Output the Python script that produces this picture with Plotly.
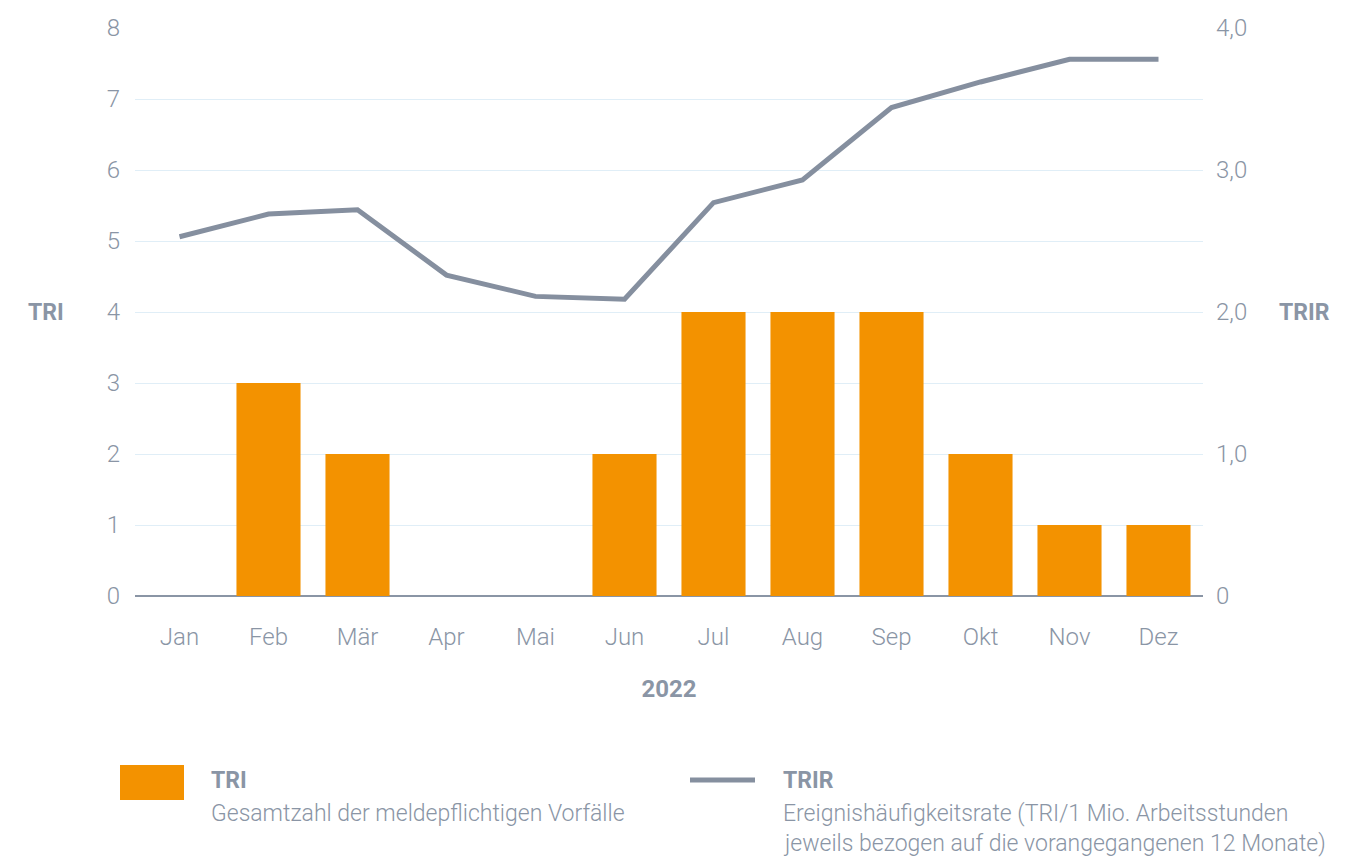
import plotly.graph_objects as go

months = ["Jan", "Feb", "Mär", "Apr", "Mai", "Jun", "Jul", "Aug", "Sep", "Okt", "Nov", "Dez"]
tri = [0, 3, 2, 0, 0, 2, 4, 4, 4, 2, 1, 1]
trir = [2.53, 2.69, 2.72, 2.26, 2.11, 2.09, 2.77, 2.93, 3.44, 3.62, 3.78, 3.78]
left_ticks = [0, 1, 2, 3, 4, 5, 6, 7, 8]
right_ticks = [0, 1, 2, 3, 4]
right_labels = ["0", "1,0", "2,0", "3,0", "4,0"]

ORANGE = "#f39200"
LINE = "#858f9f"
TXT = "#8a95a5"
GRID = "#e0eef7"
FONT = "Roboto"

fig = go.Figure()
fig.add_trace(go.Bar(x=months, y=tri, marker=dict(color=ORANGE, line=dict(width=0)),
                     yaxis="y", showlegend=False))
fig.add_trace(go.Scatter(x=months, y=trir, mode="lines", yaxis="y2",
                         line=dict(color=LINE, width=5), showlegend=False))

fig.update_layout(
    width=1361, height=859,
    margin=dict(l=127, r=166, t=20, b=271),
    paper_bgcolor="white", plot_bgcolor="white",
    bargap=0.28,
    separators=",.",
    font=dict(family=FONT, color=TXT, size=24, weight=300),
    xaxis=dict(showgrid=False, ticks="", showline=False, zeroline=False, automargin=False,
               ticklabelstandoff=24,
               tickfont=dict(size=24, color=TXT, weight=300),
               title=dict(text="<b>2022</b>", font=dict(size=24, color=TXT, weight=700), standoff=30)),
    yaxis=dict(range=[0, 8], tickvals=left_ticks, showgrid=True, gridcolor=GRID, gridwidth=1,
               zeroline=True, zerolinecolor="#8a95a5", zerolinewidth=1.5, automargin=False,
               showline=False, ticks="", ticklabelstandoff=14,
               tickfont=dict(size=24, color=TXT, weight=300)),
    yaxis2=dict(range=[0, 4], overlaying="y", side="right", tickvals=right_ticks, ticktext=right_labels,
                showgrid=False, zeroline=False, showline=False, ticks="", ticklabelstandoff=12,
                automargin=False,
                tickfont=dict(size=24, color=TXT, weight=300)),
)

# axis titles
fig.add_annotation(text="<b>TRI</b>", xref="paper", yref="y", x=-0.083, y=4, showarrow=False,
                   xanchor="center", yanchor="middle", font=dict(size=23, color=TXT))
fig.add_annotation(text="<b>TRIR</b>", xref="paper", yref="y", x=1.0955, y=4, showarrow=False,
                   xanchor="center", yanchor="middle", font=dict(size=23, color=TXT))

# legend (custom), positions given in screen pixels relative to plot area
def px_x(px):
    return (px - 135) / (1203 - 135)

def px_y(py):
    return (596 - py) / (596 - 28)

fig.add_shape(type="rect", xref="paper", yref="paper", x0=px_x(120), x1=px_x(184),
              y0=px_y(800), y1=px_y(765), fillcolor=ORANGE, line=dict(width=0))
fig.add_annotation(text="<b>TRI</b>", xref="paper", yref="paper", x=px_x(209), y=px_y(780),
                   showarrow=False, xanchor="left", yanchor="middle", font=dict(size=23, color=TXT))
fig.add_annotation(text="Gesamtzahl der meldepflichtigen Vorfälle", xref="paper", yref="paper",
                   x=px_x(209), y=px_y(813), showarrow=False, xanchor="left", yanchor="middle",
                   font=dict(size=23, color=TXT, weight=300))

fig.add_shape(type="line", xref="paper", yref="paper", x0=px_x(690), x1=px_x(755),
              y0=px_y(780), y1=px_y(780), line=dict(color=LINE, width=5))
fig.add_annotation(text="<b>TRIR</b>", xref="paper", yref="paper", x=px_x(781), y=px_y(780),
                   showarrow=False, xanchor="left", yanchor="middle", font=dict(size=23, color=TXT))
fig.add_annotation(text="Ereignishäufigkeitsrate (TRI/1 Mio. Arbeitsstunden", xref="paper", yref="paper",
                   x=px_x(781), y=px_y(813), showarrow=False, xanchor="left", yanchor="middle",
                   font=dict(size=23, color=TXT, weight=300))
fig.add_annotation(text="jeweils bezogen auf die vorangegangenen 12 Monate)", xref="paper", yref="paper",
                   x=px_x(781), y=px_y(844), showarrow=False, xanchor="left", yanchor="middle",
                   font=dict(size=23, color=TXT, weight=300))

fig.write_html("out.html")
